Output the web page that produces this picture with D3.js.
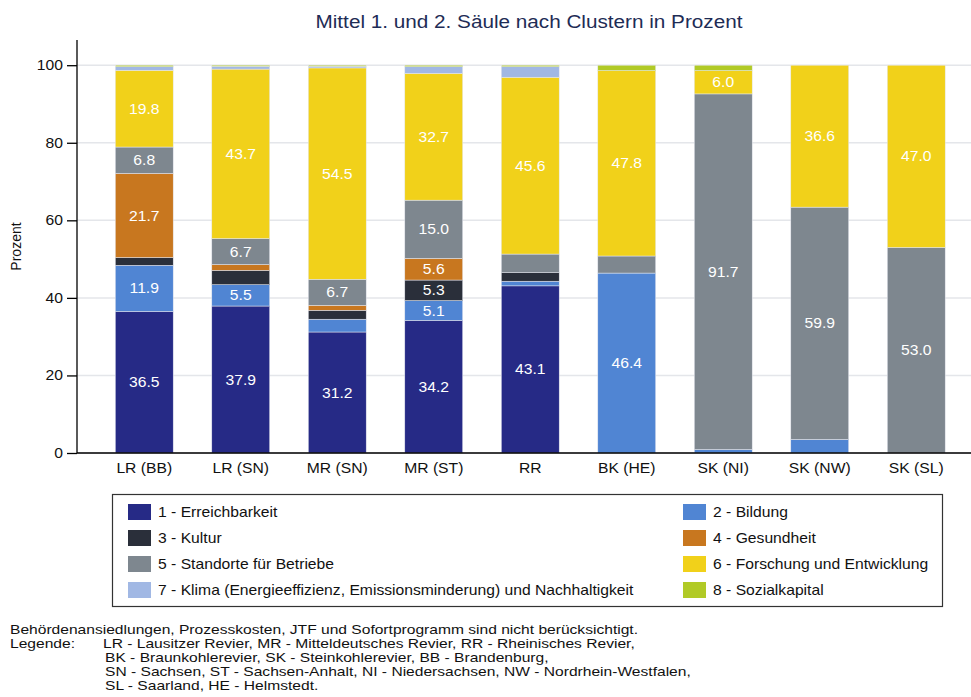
<!DOCTYPE html>
<html>
<head>
<meta charset="utf-8">
<script src="https://cdn.jsdelivr.net/npm/d3@7"></script>
<style>
  body { margin: 0; background: #fff; }
  svg text { font-family: "Liberation Sans", Arial, sans-serif; }
</style>
</head>
<body>
<div class="root"></div>
<script>
const width = 971;
const height = 697;

// clusters and segment values (percent)
const clusters = ["LR (BB)", "LR (SN)", "MR (SN)", "MR (ST)", "RR", "BK (HE)", "SK (NI)", "SK (NW)", "SK (SL)"];
const erreichbarkeit = [36.5, 37.9, 31.2, 34.2, 43.1, 0, 0, 0, 0];
const bildung = [11.9, 5.5, 3.3, 5.1, 1.2, 46.4, 0.9, 3.5, 0];
const kultur = [2.0, 3.7, 2.3, 5.3, 2.2, 0, 0, 0, 0];
const gesundheit = [21.7, 1.5, 1.3, 5.6, 0, 0, 0, 0, 0];
const standorte = [6.8, 6.7, 6.7, 15.0, 4.8, 4.4, 91.7, 59.9, 53.0];
const forschung = [19.8, 43.7, 54.5, 32.7, 45.6, 47.8, 6.0, 36.6, 47.0];
const klima = [0.9, 0.7, 0.4, 1.7, 2.7, 0, 0, 0, 0];
const sozial = [0.4, 0.3, 0.3, 0.4, 0.4, 1.4, 1.4, 0, 0];

const seriesNames = [
  "1 - Erreichbarkeit", "2 - Bildung", "3 - Kultur", "4 - Gesundheit",
  "5 - Standorte für Betriebe", "6 - Forschung und Entwicklung",
  "7 - Klima (Energieeffizienz, Emissionsminderung) und Nachhaltigkeit", "8 - Sozialkapital"
];
const seriesValues = [erreichbarkeit, bildung, kultur, gesundheit, standorte, forschung, klima, sozial];
const colors = ["#262a86", "#5085d3", "#2a2f3a", "#c8771f", "#7e878f", "#f1d11a", "#a1b8e4", "#b1ca26"];
const yTicks = [0, 20, 40, 60, 80, 100];

const footLines = [
  "Behördenansiedlungen, Prozesskosten, JTF und Sofortprogramm sind nicht berücksichtigt.",
  "LR - Lausitzer Revier, MR - Mitteldeutsches Revier, RR - Rheinisches Revier,",
  "BK - Braunkohlerevier, SK - Steinkohlerevier, BB - Brandenburg,",
  "SN - Sachsen, ST - Sachsen-Anhalt, NI - Niedersachsen, NW - Nordrhein-Westfalen,",
  "SL - Saarland, HE - Helmstedt."
];

// the original text is a bit wider than Liberation Sans
const sx = 1.12;

const svg = d3.select("div.root").append("svg")
  .attr("width", width)
  .attr("height", height);

const plotLeft = 77, plotBottom = 453, plotTop = 40;

const x = d3.scaleBand()
  .domain(clusters)
  .range([96, 964.5])
  .paddingInner(0.4)
  .paddingOuter(0.2);

const y = d3.scaleLinear()
  .domain([0, 106.5])
  .range([plotBottom, plotTop]);

// gridlines
svg.append("g")
  .selectAll("line")
  .data(yTicks)
  .join("line")
  .attr("x1", plotLeft)
  .attr("x2", width)
  .attr("y1", d => y(d))
  .attr("y2", d => y(d))
  .attr("stroke", "#e4e6ea")
  .attr("stroke-width", 1.5);

// stacked data
const table = clusters.map((c, i) => {
  const row = { cluster: c };
  seriesNames.forEach((s, k) => { row[s] = seriesValues[k][i]; });
  return row;
});
const stack = d3.stack().keys(seriesNames)(table);

const layers = svg.append("g")
  .selectAll("g")
  .data(stack)
  .join("g")
  .attr("fill", (d, i) => colors[i]);

layers.selectAll("rect")
  .data(d => d.filter(p => p[1] - p[0] > 0))
  .join("rect")
  .attr("x", d => x(d.data.cluster))
  .attr("width", x.bandwidth())
  .attr("y", d => y(d[1]))
  .attr("height", d => y(d[0]) - y(d[1]))
  .attr("stroke", "#e6e8f0")
  .attr("stroke-width", 0.5);

// value labels
layers.selectAll("text")
  .data(d => d.filter(p => p[1] - p[0] >= 5))
  .join("text")
  .attr("transform", d => `translate(${x(d.data.cluster) + x.bandwidth() / 2},${(y(d[0]) + y(d[1])) / 2}) scale(${sx},1)`)
  .attr("dy", "0.36em")
  .attr("text-anchor", "middle")
  .attr("fill", "#fff")
  .attr("font-size", 14)
  .text(d => d3.format(".1f")(d[1] - d[0]));

// y axis
const yAxis = d3.axisLeft(y).tickValues(yTicks).tickSize(10).tickPadding(4);
const gy = svg.append("g")
  .attr("transform", `translate(${plotLeft},0)`)
  .call(yAxis);
gy.select(".domain").attr("d", `M0,${plotTop}V${plotBottom}`).attr("stroke", "#000").attr("stroke-width", 1.3);
gy.selectAll(".tick line").attr("stroke", "#000").attr("stroke-width", 1.3);
gy.selectAll(".tick text")
  .attr("x", 0)
  .attr("transform", `translate(-14,0) scale(${sx},1)`)
  .attr("font-size", 14).attr("fill", "#111")
  .attr("font-family", "Liberation Sans, Arial, sans-serif");

// x axis
const xAxis = d3.axisBottom(x).tickSize(0).tickPadding(10);
const gx = svg.append("g")
  .attr("transform", `translate(0,${plotBottom})`)
  .call(xAxis);
gx.select(".domain").attr("d", `M${plotLeft},0H${width}`).attr("stroke", "#000").attr("stroke-width", 1.3);
gx.selectAll(".tick text")
  .attr("transform", `scale(${sx},1)`)
  .attr("font-size", 14).attr("fill", "#111")
  .attr("font-family", "Liberation Sans, Arial, sans-serif");

svg.append("text")
  .attr("transform", `translate(21,${(plotTop + plotBottom) / 2}) rotate(-90)`)
  .attr("text-anchor", "middle")
  .attr("font-size", 14)
  .attr("fill", "#111")
  .text("Prozent");

// title
svg.append("text")
  .attr("transform", `translate(529,28) scale(${sx},1)`)
  .attr("text-anchor", "middle")
  .attr("font-size", 18.5)
  .attr("fill", "#1e2c55")
  .text("Mittel 1. und 2. Säule nach Clustern in Prozent");

// legend
const legend = svg.append("g");
legend.append("rect")
  .attr("x", 112.5).attr("y", 494.5)
  .attr("width", 830).attr("height", 112)
  .attr("fill", "#fff")
  .attr("stroke", "#333")
  .attr("stroke-width", 1.2);

const items = legend.selectAll("g.item")
  .data(seriesNames)
  .join("g")
  .attr("class", "item")
  .attr("transform", (d, i) => `translate(${i % 2 === 0 ? 128 : 683},${512 + Math.floor(i / 2) * 26})`);
items.append("rect")
  .attr("x", 0).attr("y", -8)
  .attr("width", 23).attr("height", 16)
  .attr("fill", (d, i) => colors[i]);
items.append("text")
  .attr("transform", `translate(30,0) scale(${sx},1)`)
  .attr("dy", "0.36em")
  .attr("font-size", 14)
  .attr("fill", "#111")
  .text(d => d);

// footnote
const fsx = 1.2;
const foot = svg.append("g")
  .attr("transform", `translate(10,0) scale(${fsx},1)`)
  .attr("font-size", 13)
  .attr("fill", "#111");
foot.append("text").attr("x", 0).attr("y", 634).text(footLines[0]);
foot.append("text").attr("x", 0).attr("y", 648).text("Legende:");
footLines.slice(1).forEach((t, i) => {
  foot.append("text")
    .attr("x", ((i === 0 ? 103 : 105) - 10) / fsx)
    .attr("y", 648 + i * 14)
    .text(t);
});
</script>
</body>
</html>
